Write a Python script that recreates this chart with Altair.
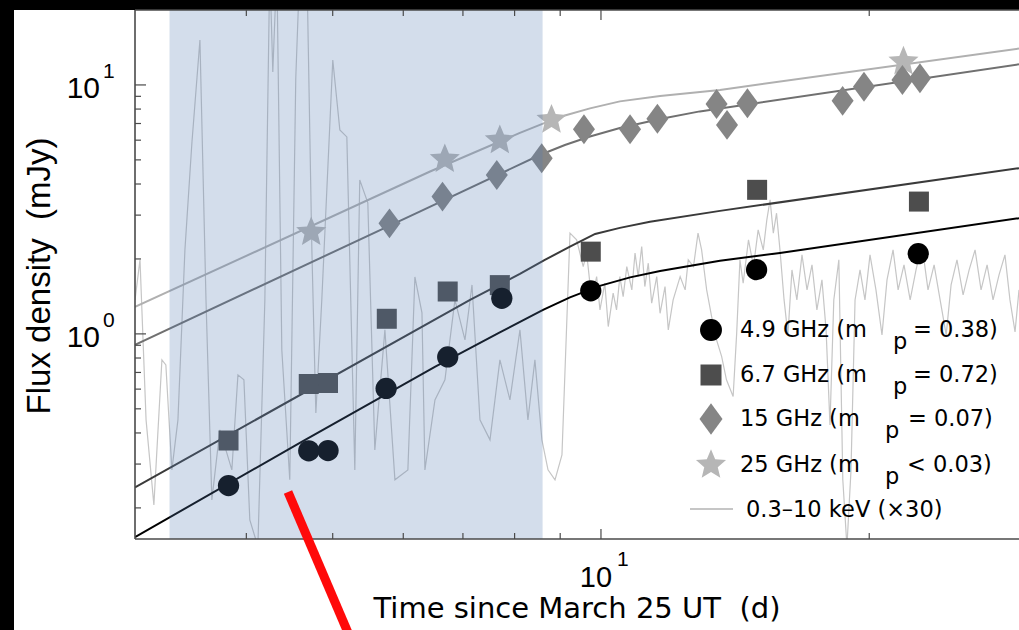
import altair as alt
import pandas as pd

FONT = "Liberation Sans"
WIDE = "DejaVu Sans"

# ---------------- radio flux densities (days since March 25, mJy) ----------------
t_49 = [3.82, 4.70, 4.94, 5.74, 6.73, 7.74, 9.74, 14.95, 22.7]
f_49 = [0.246, 0.339, 0.340, 0.604, 0.808, 1.39, 1.49, 1.81, 2.10]

t_67 = [3.82, 4.70, 4.94, 5.75, 6.73, 7.70, 9.74, 14.97, 22.74]
f_67 = [0.373, 0.629, 0.635, 1.15, 1.48, 1.57, 2.14, 3.79, 3.40]

t_15 = [5.79, 6.64, 7.64, 8.58, 9.57, 10.78, 11.57, 13.48, 13.85, 14.60, 18.67, 19.73, 21.79, 22.80]
f_15 = [2.78, 3.56, 4.35, 5.08, 6.64, 6.64, 7.32, 8.39, 6.91, 8.44, 8.63, 9.84, 10.47, 10.64]

t_25 = [4.73, 6.68, 7.70, 8.80, 21.85]
f_25 = [2.56, 5.03, 5.99, 7.24, 12.4]

# ---------------- model light curves ----------------
fit_t_49 = [3.0, 4.593, 6.51, 7.70, 8.61, 9.23, 9.97, 10.78, 11.65, 13.60, 15.88, 29.45]
fit_f_49 = [0.1526, 0.365, 0.737, 1.014, 1.248, 1.401, 1.559, 1.687, 1.79, 1.965, 2.115, 2.915]
fit_t_67 = [3.0, 7.13, 8.11, 8.65, 9.23, 9.85, 10.50, 11.35, 13.60, 29.45]
fit_f_67 = [0.242, 1.369, 1.741, 1.983, 2.24, 2.52, 2.666, 2.82, 3.12, 4.63]
fit_t_15 = [3.0, 6.26, 8.54, 9.11, 9.72, 10.50, 11.65, 12.91, 29.45]
fit_f_15 = [0.904, 3.10, 5.23, 5.74, 6.21, 6.72, 7.30, 7.83, 12.1]
fit_t_25 = [3.0, 6.43, 8.11, 8.65, 9.11, 9.72, 10.50, 11.65, 13.60, 29.45]
fit_f_25 = [1.283, 4.49, 6.42, 7.04, 7.54, 8.05, 8.59, 9.03, 9.55, 14.0]

# ---------------- 0.3-10 keV X-ray light curve, scaled x30 ----------------
xr_t_early = [3.00, 3.039, 3.087, 3.150, 3.216, 3.249, 3.300, 3.352, 3.413, 3.475, 3.548, 3.604,
              3.659, 3.736, 3.853, 3.914, 3.975, 4.036, 4.121, 4.196, 4.250, 4.283, 4.328, 4.384,
              4.475, 4.545, 4.593, 4.677, 4.738, 4.787, 4.861, 5.001, 5.093, 5.186, 5.294, 5.362,
              5.475, 5.575, 5.722, 5.872, 6.072, 6.183, 6.297, 6.345, 6.512, 6.682, 6.857, 7.037,
              7.166, 7.315, 7.507, 7.702, 7.904, 8.111, 8.280, 8.431, 8.585, 8.721, 8.880, 9.041]
xr_f_early = [1.369, 1.983, 0.4515, 0.2057, 0.786, 0.7505, 0.2843, 0.4515, 2.175, 5.849, 15.16, 1.369,
              0.2154, 0.4116, 0.2843, 0.6846, 0.654, 0.1791, 0.14, 1.369, 30, 11.28, 30, 0.862,
              0.2593, 10.67, 30, 30, 2.175, 0.4814, 1.369, 12.60, 6.597, 6.184, 0.2843, 4.155,
              3.358, 0.342, 1.038, 0.2593, 0.2843, 1.694, 1.214, 0.2843, 0.543, 0.654, 1.369, 0.946,
              1.573, 0.4515, 0.3753, 0.786, 0.543, 1.038, 0.4515, 0.786, 0.3753, 0.2843, 0.2593, 0.3265]
xr_t_mid = [9.231, 9.390, 9.552, 9.637, 9.763, 9.889, 9.974, 10.10, 10.19, 10.32, 10.41, 10.50,
            10.59, 10.69, 10.83, 10.92, 11.01, 11.11, 11.20, 11.30, 11.40, 11.55, 11.65, 11.80,
            11.90, 12.05, 12.27, 12.43, 12.53, 12.70, 12.85, 12.97, 13.14, 13.31, 13.48, 13.66,
            13.83, 14.07, 14.20, 14.32, 14.44, 14.64, 14.83, 15.01, 15.21, 15.35, 15.48, 15.61, 15.74]
xr_f_mid = [2.538, 2.386, 1.864, 2.110, 1.369, 1.699, 1.248, 1.598, 1.070, 1.457, 1.248, 1.699,
            1.411, 1.864, 1.502, 2.110, 1.699, 2.242, 1.549, 1.923, 1.328, 1.699, 1.210, 1.549,
            1.038, 1.369, 1.699, 1.502, 1.983, 1.864, 2.538, 2.175, 1.502, 1.173, 0.946, 0.810,
            0.654, 0.560, 1.007, 1.983, 1.598, 2.386, 1.864, 2.617, 2.175, 2.870, 3.453, 2.538, 3.053]
xr_t_late = [15.88, 16.05, 16.21, 16.38, 16.59, 16.81, 17.03, 17.25, 17.47, 17.70, 17.89, 18.07,
             18.25, 18.49, 18.68, 18.88, 19.08, 19.28, 19.53, 19.78, 20.04, 20.35, 20.67, 20.94,
             21.27, 21.55, 21.88, 22.23, 22.57, 22.92, 23.28, 23.65, 24.02, 24.40, 24.71, 25.09,
             25.49, 25.89, 26.29, 26.70, 27.12, 27.54, 27.97, 28.40, 28.77, 29.15, 29.45]
xr_f_late = [2.175, 1.369, 0.991, 1.807, 1.369, 2.077, 1.502, 1.893, 1.248, 1.648, 1.038, 0.4311,
             1.369, 1.983, 0.2593, 0.14, 0.2843, 1.369, 1.807, 1.369, 2.077, 1.502, 0.991, 1.648,
             2.175, 1.502, 1.893, 1.369, 1.807, 2.278, 1.502, 1.893, 1.369, 0.991, 1.573, 1.983,
             1.434, 1.807, 2.175, 1.502, 1.893, 1.369, 1.725, 2.077, 1.369, 1.019, 1.502]

# highlighted interval (days)
shade_span = [3.28, 8.60]

# axis ticks
x_major = [10]
x_minor = [4, 5, 6, 7, 8, 9, 20]
y_major = [1, 10]
y_minor = [0.2, 0.3, 0.4, 0.5, 0.6, 0.7, 0.8, 0.9, 2, 3, 4, 5, 6, 7, 8, 9]
x_labels = [{"v": 10, "base": "10", "exp": "1"}]
y_labels = [{"v": 1, "base": "10", "exp": "0"}, {"v": 10, "base": "10", "exp": "1"}]

legend_prefix = ["4.9 GHz (m", "6.7 GHz (m", "15 GHz (m", "25 GHz (m"]
legend_suffix = ["= 0.38)", "= 0.72)", "= 0.07)", "< 0.03)"]
legend_xray = "0.3\u201310 keV (\u00d730)"

x_title = "Time since March 25 UT \u00a0(d)"
y_title = "Flux density \u00a0(mJy)"

# ---------------- styling ----------------
W, H = 884, 529
xs = alt.Scale(type="log", domain=[3, 29.45])
ys = alt.Scale(type="log", domain=[0.15, 20])
X = alt.X("t:Q", scale=xs, axis=None)
Y = alt.Y("f:Q", scale=ys, axis=None)

C49, C67, C15, C25, CXR = "#000000", "#4d4d4d", "#858585", "#b6b6b6", "#c6c6c6"
L67, L15, L25 = "#3a3a3a", "#707070", "#b0b0b0"
FRAME = "#4a4a4a"

DIAMOND = "M0,-1.36L1,0L0,1.36L-1,0Z"
STAR = ("M0,-1L0.2645,-0.364L0.951,-0.309L0.428,0.139L0.588,0.809L0,0.45"
        "L-0.588,0.809L-0.428,0.139L-0.951,-0.309L-0.2645,-0.364Z")

one = pd.DataFrame({"k": [0]})


def df(t, f):
    return pd.DataFrame({"t": t, "f": f})


def curve(t, f, color, width):
    return alt.Chart(df(t, f)).mark_line(color=color, strokeWidth=width, clip=True).encode(x=X, y=Y)


def pts(t, f, shape, size, color):
    return alt.Chart(df(t, f)).mark_point(
        shape=shape, size=size, color=color, filled=True, opacity=1, strokeWidth=0
    ).encode(x=X, y=Y)


paper = alt.Chart(one).mark_rect(color="white").encode(
    x=alt.value(-121), x2=alt.value(W), y=alt.value(0), y2=alt.value(H + 91)
)

xray = curve(xr_t_early + xr_t_mid + xr_t_late, xr_f_early + xr_f_mid + xr_f_late, CXR, 1.2)
lines = [
    curve(fit_t_25, fit_f_25, L25, 2),
    curve(fit_t_15, fit_f_15, L15, 2),
    curve(fit_t_67, fit_f_67, L67, 2),
    curve(fit_t_49, fit_f_49, C49, 2),
]
marks = [
    pts(t_25, f_25, STAR, 1000, C25),
    pts(t_15, f_15, DIAMOND, 484, C15),
    pts(t_67, f_67, "square", 400, C67),
    pts(t_49, f_49, "circle", 452, C49),
]

shade = alt.Chart(pd.DataFrame({"a": [shade_span[0]], "b": [shade_span[1]]})).mark_rect(
    color="#547ab3", opacity=0.26
).encode(x=alt.X("a:Q", scale=xs, axis=None), x2="b:Q", y=alt.value(0), y2=alt.value(H))

frame = [
    alt.Chart(one).mark_rule(color=FRAME, strokeWidth=1.6).encode(x=alt.value(0), x2=alt.value(W), y=alt.value(0)),
    alt.Chart(one).mark_rule(color=FRAME, strokeWidth=1.6).encode(x=alt.value(0), x2=alt.value(W), y=alt.value(H)),
    alt.Chart(one).mark_rule(color=FRAME, strokeWidth=1.6).encode(x=alt.value(0), y=alt.value(0), y2=alt.value(H)),
]


def xticks(vals, length):
    d = pd.DataFrame({"v": vals})
    xv = alt.X("v:Q", scale=xs, axis=None)
    bot = alt.Chart(d).mark_rule(color=FRAME, strokeWidth=1.2).encode(x=xv, y=alt.value(H), y2=alt.value(H - length))
    top = alt.Chart(d).mark_rule(color=FRAME, strokeWidth=1.2).encode(x=xv, y=alt.value(0), y2=alt.value(length))
    return [bot, top]


def yticks(vals, length):
    d = pd.DataFrame({"v": vals})
    yv = alt.Y("v:Q", scale=ys, axis=None)
    return [alt.Chart(d).mark_rule(color=FRAME, strokeWidth=1.2).encode(y=yv, x=alt.value(0), x2=alt.value(length))]


ticks = xticks(x_major, 10) + xticks(x_minor, 6) + yticks(y_major, 11) + yticks(y_minor, 6)

xl = pd.DataFrame(x_labels)
yl = pd.DataFrame(y_labels)
labels = [
    alt.Chart(xl).mark_text(font=FONT, fontSize=29, align="center", baseline="alphabetic", dx=-5, color="black")
    .encode(x=alt.X("v:Q", scale=xs, axis=None), y=alt.value(H + 48), text="base:N"),
    alt.Chart(xl).mark_text(font=FONT, fontSize=21, align="left", baseline="alphabetic", dx=16, color="black")
    .encode(x=alt.X("v:Q", scale=xs, axis=None), y=alt.value(H + 27), text="exp:N"),
    alt.Chart(yl).mark_text(font=FONT, fontSize=30, align="right", baseline="alphabetic", dy=13, color="black")
    .encode(y=alt.Y("v:Q", scale=ys, axis=None), x=alt.value(-35), text="base:N"),
    alt.Chart(yl).mark_text(font=FONT, fontSize=21, align="left", baseline="alphabetic", dy=-7, color="black")
    .encode(y=alt.Y("v:Q", scale=ys, axis=None), x=alt.value(-32), text="exp:N"),
    alt.Chart(one).mark_text(font=WIDE, fontSize=29, align="center", baseline="alphabetic", color="black", text=x_title)
    .encode(x=alt.value(442), y=alt.value(H + 79)),
    alt.Chart(one).mark_text(font=FONT, fontSize=33, align="center", baseline="alphabetic", angle=270, color="black", text=y_title)
    .encode(x=alt.value(-85), y=alt.value(266)),
]

# legend block
row_y = [320, 365, 409, 455, 499]
sym_x = 576
LFS = 22.5
legend = []
sym_specs = [("circle", 480, C49), ("square", 441, C67), (DIAMOND, 529, C15), (STAR, 1000, C25)]
p_x = [758, 758, 750, 750]
suf_x = [778, 778, 773, 772]
for i, (shape, size, color) in enumerate(sym_specs):
    legend.append(alt.Chart(one).mark_point(shape=shape, size=size, color=color, filled=True, opacity=1, strokeWidth=0)
                  .encode(x=alt.value(sym_x), y=alt.value(row_y[i])))
    legend.append(alt.Chart(one).mark_text(font=WIDE, fontSize=LFS, align="left", baseline="alphabetic", color="black",
                                           text=legend_prefix[i]).encode(x=alt.value(605), y=alt.value(row_y[i] + 7)))
    legend.append(alt.Chart(one).mark_text(font=WIDE, fontSize=LFS, align="left", baseline="alphabetic", color="black",
                                           text="p").encode(x=alt.value(p_x[i]), y=alt.value(row_y[i] + 19)))
    legend.append(alt.Chart(one).mark_text(font=WIDE, fontSize=LFS, align="left", baseline="alphabetic", color="black",
                                           text=legend_suffix[i]).encode(x=alt.value(suf_x[i]), y=alt.value(row_y[i] + 7)))
legend.append(alt.Chart(one).mark_rule(color=CXR, strokeWidth=2).encode(x=alt.value(555), x2=alt.value(598), y=alt.value(row_y[4])))
legend.append(alt.Chart(one).mark_text(font=WIDE, fontSize=LFS, align="left", baseline="alphabetic", color="black",
                                       text=legend_xray).encode(x=alt.value(611), y=alt.value(row_y[4] + 8)))

pointer = alt.Chart(one).mark_rule(color="#ff0a0a", strokeWidth=9).encode(
    x=alt.value(153), y=alt.value(482), x2=alt.value(214), y2=alt.value(625)
)

chart = alt.layer(
    paper, xray, *lines, *marks, shade, *frame, *ticks, *labels, *legend, pointer
).properties(
    width=W, height=H,
    autosize=alt.AutoSizeParams(type="none"),
    padding={"left": 135, "top": 10, "right": 0, "bottom": 91},
).configure(background="black").configure_view(stroke=None)

chart.save("out.html", embed_options={"renderer": "svg", "actions": False})
